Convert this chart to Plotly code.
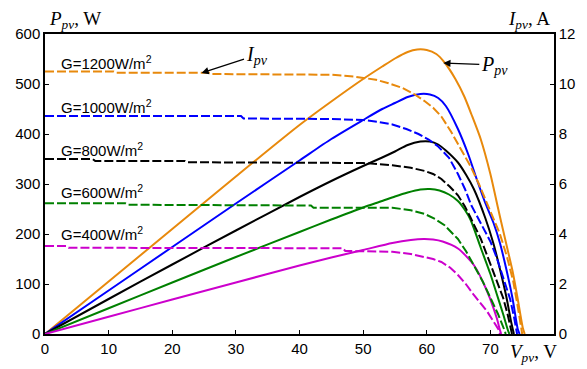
import plotly.graph_objects as go

# Irradiance levels and their line colours
levels = ["G=1200W/m<sup>2</sup>", "G=1000W/m<sup>2</sup>", "G=800W/m<sup>2</sup>",
          "G=600W/m<sup>2</sup>", "G=400W/m<sup>2</sup>"]
colors = ["#E8890C", "#0000FF", "#000000", "#008000", "#CC00CC"]

# P-V curves (voltage in V, power in W)
p1200_v = [0, 10, 20, 30, 40, 45, 50, 53, 55, 57, 58.5, 60, 61.5, 62.8, 64.5, 65.9, 67, 68.5, 70, 70.8, 71.5, 72.5, 73.5, 74.3, 75.1, 75.4]
p1200_p = [0, 105, 210, 315, 418, 465, 510, 535, 551, 564, 569, 568, 560, 543, 510, 475, 440, 389, 320, 275, 235, 180, 125, 70, 12, 0]
p1000_v = [0, 10, 20, 30, 40, 45, 50, 53, 55, 57, 59, 60.5, 61.8, 63, 64.9, 66.5, 67.9, 69.2, 70.5, 71.5, 72.5, 73.5, 74.3, 74.6]
p1000_p = [0, 87, 174, 261, 347, 390, 428, 450, 462, 474, 480, 479, 472, 456, 410, 360, 308, 262, 222, 182, 130, 70, 10, 0]
p800_v = [0, 10, 20, 30, 40, 45, 50, 53, 55, 57, 59, 60.5, 61.8, 63, 64.9, 66.2, 67.4, 69.2, 70.5, 71.5, 72.5, 73.3, 73.7]
p800_p = [0, 70, 139, 207, 274, 306, 336, 353, 365, 378, 385, 385, 379, 367, 343, 318, 290, 232, 180, 130, 75, 22, 0]
p600_v = [0, 10, 20, 30, 40, 45, 50, 53, 55, 57, 59, 60.5, 62, 63.5, 64.9, 66, 66.9, 68.5, 70, 71, 72, 72.8, 73.0]
p600_p = [0, 51.5, 103, 154, 204, 229, 253, 266, 275, 283, 289, 290, 287, 279, 266, 248, 228, 172, 120, 80, 40, 6, 0]
p400_v = [0, 10, 20, 30, 40, 45, 50, 54.6, 57.5, 59.5, 61, 62.5, 64.9, 67.4, 69.5, 71, 71.5, 71.7]
p400_p = [0, 34.5, 69, 103, 137, 153, 168, 182, 188, 190, 189, 185, 171, 138, 85, 32, 8, 0]

# I-V curves (voltage in V, current in A)
i1200_v = [0, 10.8, 11.2, 25.8, 26.2, 40, 45, 48.5, 52, 54, 56.2, 58, 59.7, 61, 62.3, 63.8, 65.3, 66.9, 68.2, 69.5, 70.5, 71.5, 72.6, 73.6, 74.3, 74.9, 75.0]
i1200_i = [10.5, 10.5, 10.45, 10.45, 10.4, 10.4, 10.37, 10.3, 10.17, 10.03, 9.84, 9.6, 9.31, 9.05, 8.7, 8.1, 7.45, 6.7, 6.0, 5.2, 4.6, 4.0, 3.1, 2.1, 1.1, 0.1, 0]
i1000_v = [0, 30.8, 31.2, 45, 50, 52.5, 54.6, 56.8, 58.7, 60.3, 61.8, 63.5, 64.9, 66, 67, 68, 69, 70, 71, 72, 73.1, 73.7, 74.1, 74.2]
i1000_i = [8.72, 8.72, 8.62, 8.6, 8.56, 8.48, 8.38, 8.2, 8.0, 7.78, 7.5, 7.05, 6.4, 5.8, 5.15, 4.65, 4.2, 3.7, 3.05, 2.3, 1.4, 0.7, 0.1, 0]
i800_v = [0, 7.5, 7.9, 22, 22.4, 50, 54.6, 57.5, 59.7, 61, 62.3, 63.6, 64.9, 66, 66.9, 68.5, 70, 71, 72, 72.7, 73.3, 73.4]
i800_i = [7.0, 7.0, 6.92, 6.92, 6.87, 6.84, 6.75, 6.65, 6.52, 6.4, 6.2, 5.9, 5.55, 5.1, 4.65, 3.8, 2.8, 2.15, 1.45, 0.8, 0.1, 0]
i600_v = [0, 12.6, 13, 41.8, 42.2, 54.6, 57.5, 59.7, 61.3, 62.8, 64.9, 66.2, 67.4, 68.8, 70, 71.2, 72.3, 72.4]
i600_i = [5.23, 5.23, 5.17, 5.14, 5.05, 5.05, 4.95, 4.8, 4.6, 4.35, 3.8, 3.3, 2.75, 2.1, 1.45, 0.8, 0.1, 0]
i400_v = [0, 3.3, 3.7, 46.8, 47.2, 54.6, 57.5, 59.7, 61, 62.3, 63.7, 64.9, 66.2, 67.4, 68.5, 69.5, 70.5, 71.3, 71.5]
i400_i = [3.52, 3.52, 3.45, 3.43, 3.32, 3.29, 3.2, 3.09, 3.0, 2.88, 2.65, 2.36, 1.98, 1.56, 1.2, 0.9, 0.5, 0.17, 0]

p_curves = [(p1200_v, p1200_p), (p1000_v, p1000_p), (p800_v, p800_p), (p600_v, p600_p), (p400_v, p400_p)]
i_curves = [(i1200_v, i1200_i), (i1000_v, i1000_i), (i800_v, i800_i), (i600_v, i600_i), (i400_v, i400_i)]

x_ticks = [0, 10, 20, 30, 40, 50, 60, 70]
p_ticks = [0, 100, 200, 300, 400, 500, 600]
i_ticks = [0, 2, 4, 6, 8, 10, 12]

fig = go.Figure()
for (v, i), c in zip(i_curves, colors):
    fig.add_trace(go.Scatter(x=v, y=i, mode="lines", yaxis="y2",
                             line=dict(color=c, width=2, dash="9px,3px"),
                             showlegend=False, hoverinfo="skip"))
for (v, p), c in zip(p_curves, colors):
    fig.add_trace(go.Scatter(x=v, y=p, mode="lines",
                             line=dict(color=c, width=2, shape="spline", smoothing=0.7),
                             showlegend=False, hoverinfo="skip"))

tick_font = dict(family="Liberation Sans, Arial", size=15, color="black")
serif = "Liberation Serif, Times New Roman"

fig.update_layout(
    width=587, height=369,
    margin=dict(l=45, r=22, t=34, b=33),
    paper_bgcolor="white", plot_bgcolor="white",
    xaxis=dict(range=[0, 80], tickvals=x_ticks, ticks="inside", ticklen=4,
               tickcolor="black", showline=True, linecolor="black", linewidth=1.5,
               mirror=True, showgrid=False, zeroline=False, tickfont=tick_font),
    yaxis=dict(range=[0, 600], tickvals=p_ticks, ticks="inside", ticklen=4,
               tickcolor="black", showline=True, linecolor="black", linewidth=1.5,
               showgrid=False, zeroline=False, tickfont=tick_font),
    yaxis2=dict(range=[0, 12], tickvals=i_ticks, ticks="inside", ticklen=4,
                tickcolor="black", showline=True, linecolor="black", linewidth=1.5,
                overlaying="y", side="right", showgrid=False, zeroline=False,
                tickfont=tick_font),
)

# Irradiance labels
label_y = [0.905, 0.757, 0.615, 0.476, 0.334]
for txt, yy in zip(levels, label_y):
    fig.add_annotation(text=txt, xref="paper", yref="paper", x=0.028, y=yy,
                       xanchor="left", yanchor="middle", showarrow=False,
                       font=dict(family="Liberation Sans, Arial", size=15, color="black"))

# Axis titles
title_font = dict(family=serif, size=19, color="black")
fig.add_annotation(text="<i>P</i><sub><i>pv</i></sub>, W", xref="paper", yref="paper",
                   x=0.004, y=1.046, xanchor="left", yanchor="middle", showarrow=False,
                   font=title_font)
fig.add_annotation(text="<i>I</i><sub><i>pv</i></sub>, A", xref="paper", yref="paper",
                   x=0.996, y=1.046, xanchor="right", yanchor="middle", showarrow=False,
                   font=title_font)
fig.add_annotation(text="<i>V</i><sub><i>pv</i></sub>, V", xref="paper", yref="paper",
                   x=0.909, y=-0.063, xanchor="left", yanchor="middle", showarrow=False,
                   font=title_font)

# Curve annotations with arrows
fig.add_annotation(text="<i>I</i><sub><i>pv</i></sub>", x=24.6, y=522, xref="x", yref="y",
                   ax=55, ay=-18, showarrow=True, arrowhead=2, arrowsize=1.2,
                   arrowwidth=1.2, arrowcolor="black", font=dict(family=serif, size=20, color="black"))
fig.add_annotation(text="<i>P</i><sub><i>pv</i></sub>", x=62.6, y=542, xref="x", yref="y",
                   ax=51, ay=2, showarrow=True, arrowhead=2, arrowsize=1.2,
                   arrowwidth=1.2, arrowcolor="black", font=dict(family=serif, size=20, color="black"))

fig.write_html("out.html")
